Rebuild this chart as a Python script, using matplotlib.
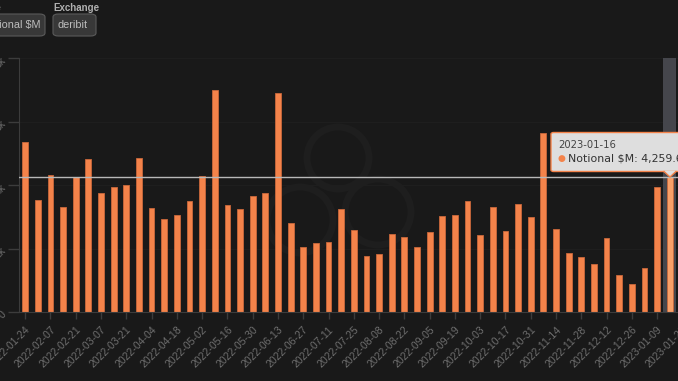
import numpy as np
import pandas as pd
import matplotlib
matplotlib.use("Agg")
import matplotlib.pyplot as plt
from matplotlib.patches import FancyBboxPatch, Polygon, Ellipse

# weekly notional volume ($M), deribit, weeks starting 2022-01-24
weeks = pd.date_range("2022-01-24", periods=52, freq="7D")
notional = [5364, 3518, 4325, 3318, 4241, 4819, 3748, 3927, 4010, 4850,
            3286, 2940, 3055, 3486, 4273, 6992, 3370, 3234, 3643, 3748,
            6908, 2793, 2037, 2162, 2215, 3255, 2593, 1774, 1837, 2446,
            2352, 2037, 2530, 3024, 3055, 3486, 2415, 3318, 2562, 3402,
            2992, 5627, 2614, 1869, 1743, 1522, 2320, 1165, 882, 1396,
            3948, 4259.6]
# every second week gets a label (last one falls on the week after the data)
tick_labels = ["2022-01-24", "2022-02-07", "2022-02-21", "2022-03-07", "2022-03-21",
               "2022-04-04", "2022-04-18", "2022-05-02", "2022-05-16", "2022-05-30",
               "2022-06-13", "2022-06-27", "2022-07-11", "2022-07-25", "2022-08-08",
               "2022-08-22", "2022-09-05", "2022-09-19", "2022-10-03", "2022-10-17",
               "2022-10-31", "2022-11-14", "2022-11-28", "2022-12-12", "2022-12-26",
               "2023-01-09", "2023-01-23"]
y_ticks = [0, 2000, 4000, 6000, 8000]
y_labels = ["0", "2k", "4k", "6k", "8k"]
hover_idx = len(notional) - 1

BG = "#191919"
ORANGE = "#f4834a"
W, H = 678, 381


def fx(px):
    return px / W


def fy(py):
    return 1 - py / H


plt.rcParams["font.family"] = ["Liberation Sans", "DejaVu Sans"]
fig = plt.figure(figsize=(W / 100, H / 100), dpi=100, facecolor=BG)

# plot area runs past the right edge (the original is a crop)
cat_w = 12.637
left_px, top_px, bottom_px = 18.9, 58.0, 312.0
ax = fig.add_axes([fx(left_px), fy(bottom_px), 53 * cat_w / W, (bottom_px - top_px) / H])
ax.patch.set_visible(False)

# faint watermark rings behind the plot
for cx, cy, r in [(338, 158, 31), (378, 212, 33), (300, 220, 33)]:
    fig.patches.append(Ellipse((fx(cx), fy(cy)), 2 * r / W, 2 * r / H,
                               transform=fig.transFigure, fill=False,
                               ec="#1e1e1e", lw=5, zorder=-5))

x = np.arange(len(notional))
colors = [ORANGE] * len(notional)
colors[hover_idx] = "#f9a068"
ax.axvspan(hover_idx - 0.5, hover_idx + 0.5, color="#45464c", zorder=1, lw=0)
ax.bar(x, notional, width=0.46, color=colors, edgecolor="#c9683b", linewidth=0.6, zorder=2)
ax.axhline(notional[hover_idx], color="#b8b8b8", lw=1, zorder=3)

ax.set_xlim(-0.5, 52.5)
ax.set_ylim(0, 8000)
ax.set_xticks(np.arange(0, 53, 2))
ax.set_xticklabels(tick_labels, rotation=45, ha="right", rotation_mode="anchor",
                   fontsize=7.6, color="#6e6e6e")
ax.set_yticks(y_ticks)
ax.set_yticklabels(y_labels, rotation=45, ha="right", rotation_mode="anchor",
                   fontsize=7.6, color="#6e6e6e")
ax.tick_params(axis="both", colors="#3c3c3c", length=5, width=1)
ax.tick_params(axis="x", pad=4, labelcolor="#6e6e6e")
ax.tick_params(axis="y", length=8, pad=3, labelcolor="#6e6e6e")
ax.grid(axis="y", color="#1e1e1e", lw=1, zorder=0)
ax.set_axisbelow(True)
for s in ["top", "right"]:
    ax.spines[s].set_visible(False)
for s in ["left", "bottom"]:
    ax.spines[s].set_color("#3c3c3c")

# tooltip
tip = FancyBboxPatch((fx(551), fy(171.5)), fx(160), 39 / H,
                     boxstyle="round,pad=0,rounding_size=0.004",
                     transform=fig.transFigure, fc="#dedede", ec=ORANGE, lw=1, zorder=10)
fig.patches.append(tip)
fig.patches.append(Polygon([(fx(664), fy(171.0)), (fx(676), fy(171.0)), (fx(670), fy(177))],
                           closed=True, transform=fig.transFigure,
                           fc="#dedede", ec="none", zorder=11))
fig.lines.append(plt.Line2D([fx(664), fx(670), fx(676)], [fy(171.5), fy(177), fy(171.5)],
                            transform=fig.transFigure, color=ORANGE, lw=1, zorder=12))
fig.text(fx(558), fy(145), weeks[hover_idx].strftime("%Y-%m-%d"), fontsize=7.2,
         color="#444444", va="center", family="DejaVu Sans", zorder=13)
fig.text(fx(561), fy(158.5), "\u25cf", fontsize=6.5, color=ORANGE, va="center", ha="center",
         family="DejaVu Sans", zorder=13)
fig.text(fx(568), fy(158), f"Notional $M: {notional[hover_idx]:,.1f}", fontsize=7.9,
         color="#333333", va="center", family="DejaVu Sans", zorder=13)

# selector widgets at the top left
fig.text(fx(2), fy(8), "Value", fontsize=7, color="#b0b0b0", fontweight="bold",
         ha="right", va="center")
fig.text(fx(53), fy(8), "Exchange", fontsize=7, color="#b0b0b0", fontweight="bold",
         ha="left", va="center")
for x0, x1, label, ha, tx in [(-30, 45, "Notional $M", "right", 41), (53, 96, "deribit", "left", 57)]:
    fig.patches.append(FancyBboxPatch((fx(x0), fy(36)), fx(x1 - x0), 22 / H,
                                      boxstyle="round,pad=0,rounding_size=0.008",
                                      transform=fig.transFigure, fc="#383838",
                                      ec="#5a5a5a", lw=0.8, zorder=5))
    fig.text(fx(tx), fy(25), label, fontsize=7.8, color="#bdbdbd", ha=ha, va="center", zorder=6)

fig.savefig("out.png", dpi=100, facecolor=BG)
